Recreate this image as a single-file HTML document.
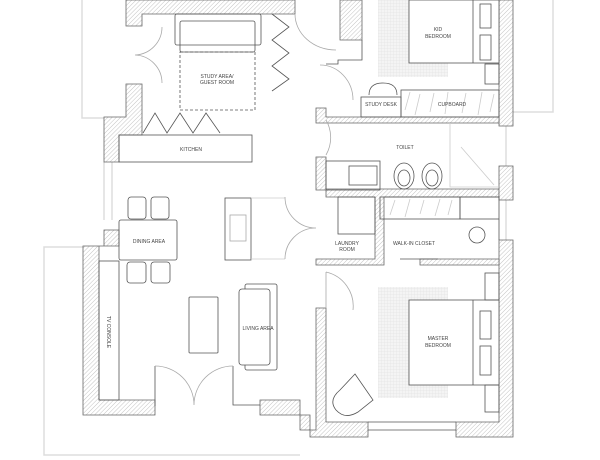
<!DOCTYPE html>
<html><head><meta charset="utf-8"><style>
html,body{margin:0;padding:0;background:#fff;width:600px;height:460px;overflow:hidden}
svg{display:block}
text{font-family:"Liberation Sans",sans-serif;font-size:5px;fill:#444;text-anchor:middle}
</style></head><body>
<svg width="600" height="460" viewBox="0 0 600 460" xmlns="http://www.w3.org/2000/svg">
<defs>
<pattern id="h" width="3" height="3" patternUnits="userSpaceOnUse" patternTransform="rotate(45)">
<rect width="3" height="3" fill="#fff"/><line x1="0" y1="0" x2="0" y2="3" stroke="#aaa" stroke-width="0.7"/></pattern>
<pattern id="g" width="3" height="3" patternUnits="userSpaceOnUse">
<rect width="3" height="3" fill="#f4f4f4"/><path d="M0 0H3M0 0V3" stroke="#ddd" stroke-width="0.5"/></pattern>
</defs>
<g fill="none" stroke="#ddd" stroke-width="1.5">
<path d="M82 0V118H126"/>
<path d="M83 247H44V455H300"/>
<path d="M513 112H553V0"/>
<path d="M104 162V220M112 162V220"/>
<path d="M506 126V166M506 200V240"/>
</g>
<g fill="url(#h)" stroke="#666" stroke-width="0.8">
<path d="M126 0H295V14H142V26H126Z"/>
<path d="M126 84H142V135H119V162H104V117H126Z"/>
<path d="M104 230H119V246H99V400H155V415H83V246H104Z"/>
<path d="M260 400H300V430H316V308H326V422H368V437H310V415H260Z"/>
<path d="M456 422H499V240H513V437H456Z"/>
<path d="M499 0H513V126H499Z"/>
<path d="M340 0H362V40H340Z"/>
<path d="M316 108H326V117H499V123H316Z"/>
<path d="M316 157H326V189H499V197H384V265H316V259H375V197H326V190H316Z"/>
<path d="M499 166H513V200H499Z"/>
<path d="M420 259H499V265H420Z"/>
</g>
<g fill="none" stroke="#555" stroke-width="0.8">
<path d="M362 40V60H338V64H326" />
<rect x="175" y="14" width="86" height="31" rx="2"/>
<rect x="180" y="21" width="75" height="31" rx="2"/>
<rect x="180" y="52" width="75" height="58" stroke-dasharray="3 2"/>
<path d="M272 14L289 27L272 40L289 53L272 66L289 79L272 91" />
<path d="M143 133L155 113L167 133L180 113L193 133L206 113L220 133"/>
<rect x="119" y="135" width="133" height="27"/>
<rect x="119" y="220" width="58" height="40" rx="2"/>
<rect x="128" y="197" width="18" height="22" rx="3"/><rect x="151" y="197" width="18" height="22" rx="3"/>
<rect x="127" y="262" width="19" height="21" rx="3"/><rect x="151" y="262" width="19" height="21" rx="3"/>
<rect x="99" y="261" width="20" height="139"/>
<rect x="225" y="198" width="26" height="62"/>
<rect x="230" y="215" width="16" height="26" stroke="#aaa"/>
<path d="M251 198H285M251 259H285" stroke="#ccc"/>
<rect x="189" y="297" width="29" height="56" rx="1"/>
<rect x="245" y="284" width="32" height="86" rx="2"/>
<rect x="239" y="289" width="31" height="76" rx="3" fill="#fff"/>
<path d="M155 406V366M233 366V405H260"/>
<path d="M155 366A39 39 0 0 1 194 405M233 366A39 39 0 0 0 194 405" stroke="#aaa"/>
<path d="M162 27A28 28 0 0 1 135 55A28 28 0 0 1 162 83" stroke="#aaa"/>
<path d="M285 197A31 31 0 0 0 316 228M285 259A31 31 0 0 1 316 228" stroke="#aaa"/>
<path d="M295 14A41 36 0 0 0 336 50M320 65A33 35 0 0 1 353 100" stroke="#aaa"/>
<path d="M326 120A35 35 0 0 1 326 155M326 272A35 35 0 0 1 353 310M326 272V308" stroke="#aaa"/>
<rect x="378" y="0" width="70" height="77" fill="url(#g)" stroke="none"/>
<rect x="409" y="0" width="90" height="63" fill="#fff"/>
<path d="M473 0V63"/>
<rect x="480" y="4" width="11" height="24"/><rect x="480" y="35" width="11" height="25"/>
<rect x="485" y="64" width="14" height="20"/>
<rect x="401" y="90" width="98" height="27"/>
<path d="M405 110L410 92M415 115L420 94M430 112L434 93M445 114L448 92M462 113L466 93M478 115L482 92M490 112L494 94" stroke="#ccc"/>
<rect x="361" y="97" width="40" height="20"/>
<path d="M369 95Q369 83 383 83Q397 83 397 95" />
<rect x="326" y="161" width="54" height="29"/>
<rect x="349" y="166" width="28" height="19"/>
<ellipse cx="404" cy="176" rx="10" ry="13"/><ellipse cx="404" cy="178" rx="6" ry="8"/>
<ellipse cx="432" cy="176" rx="10" ry="13"/><ellipse cx="432" cy="178" rx="6" ry="8"/>
<path d="M450 123V187H499M461 147L494 185" stroke="#ccc"/>
<rect x="380" y="197" width="80" height="22"/>
<rect x="460" y="197" width="39" height="22"/>
<path d="M390 215L395 200M405 217L410 199M420 214L424 200M435 216L440 199M448 215L452 200" stroke="#ccc"/>
<circle cx="477" cy="235" r="8"/>
<path d="M499 219V240"/>
<rect x="338" y="197" width="37" height="37"/>
<path d="M400 259H438"/>
<rect x="378" y="287" width="70" height="111" fill="url(#g)" stroke="none"/>
<rect x="409" y="300" width="90" height="85" fill="#fff"/>
<path d="M473 300V385"/>
<rect x="480" y="311" width="11" height="28"/><rect x="480" y="346" width="11" height="29"/>
<rect x="485" y="273" width="14" height="27"/><rect x="485" y="385" width="14" height="27"/>
<path d="M368 422H456M368 430H456"/>
<path d="M355 374L373 400L358 412Q345 420 336 410Q328 400 340 390Z"/>
</g>
<text x="217" y="78">STUDY AREA/</text><text x="217" y="84">GUEST ROOM</text>
<text x="191" y="151">KITCHEN</text>
<text x="149" y="243">DINING AREA</text>
<text x="258" y="330">LIVING AREA</text>
<text transform="translate(107,332) rotate(90)">TV CONSOLE</text>
<text x="438" y="31">KID</text><text x="438" y="38">BEDROOM</text>
<text x="381" y="106">STUDY DESK</text>
<text x="452" y="106">CUPBOARD</text>
<text x="405" y="149">TOILET</text>
<text x="414" y="245">WALK-IN CLOSET</text>
<text x="347" y="245">LAUNDRY</text><text x="347" y="251">ROOM</text>
<text x="438" y="340">MASTER</text><text x="438" y="347">BEDROOM</text>
</svg>
</body></html>
